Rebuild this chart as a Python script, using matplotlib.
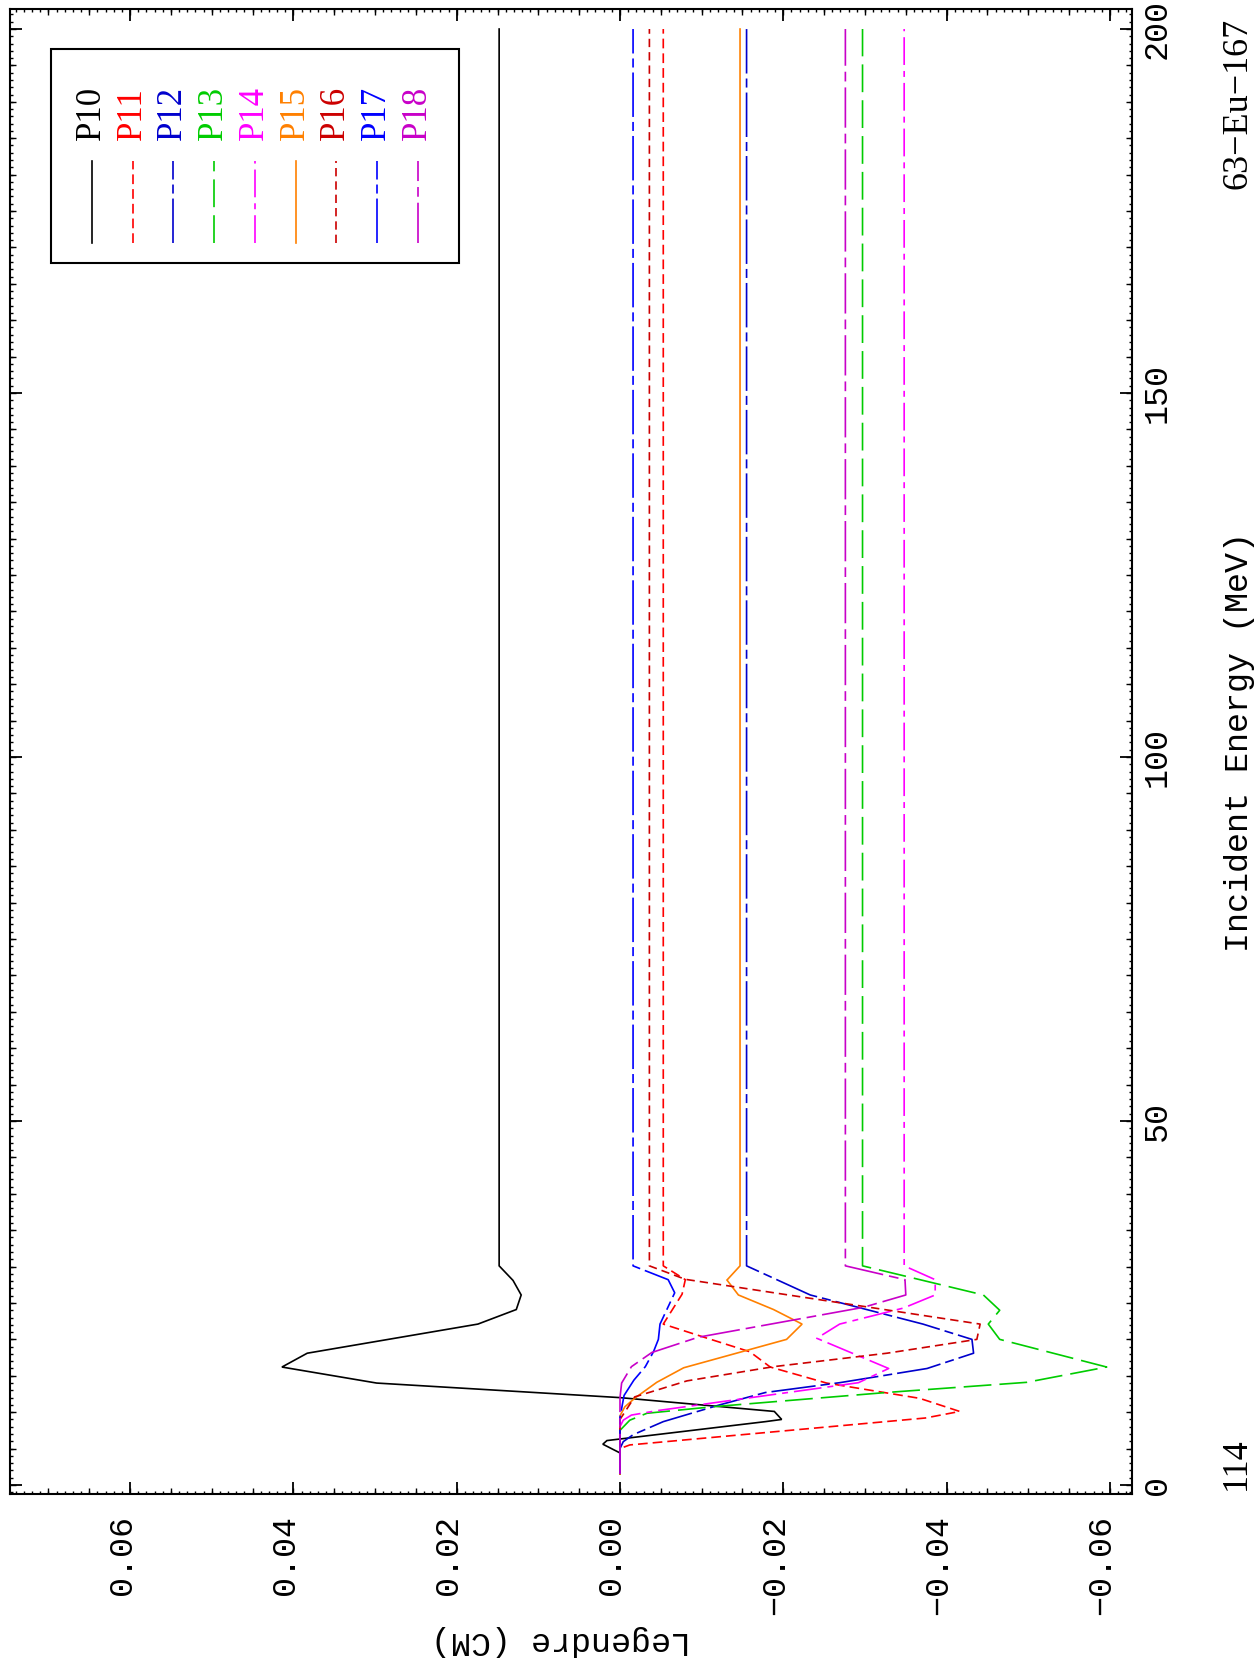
import matplotlib
matplotlib.use('Agg')
import numpy as np
import matplotlib.pyplot as plt
import matplotlib.transforms as mtransforms
from matplotlib.lines import Line2D
from matplotlib.patches import Rectangle
from matplotlib.ticker import MultipleLocator

plt.rcParams['lines.scale_dashes'] = False

W, H = 1256, 1669

# Legendre coefficients (CM) against incident energy (MeV)
e_p10 = [1.5, 4.4, 5.6, 6.1, 8.7, 9.0, 10.1, 12.0, 14.0, 16.2, 18.1, 22.1, 24.1, 26.1, 28.1, 30.1, 200.0]
p10 = [0.0, 0.0, 0.0021, 0.0016, -0.0178, -0.0198, -0.0189, 0.0, 0.0298, 0.0414, 0.0383, 0.0174, 0.0127, 0.0121, 0.0131, 0.0148, 0.0148]

e_p11 = [1.5, 5.0, 5.5, 9.2, 10.1, 11.9, 14.0, 16.2, 18.3, 20.4, 22.1, 26.2, 28.2, 30.1, 200.0]
p11 = [0.0, 0.0, -0.0012, -0.0374, -0.0416, -0.0367, -0.0253, -0.0184, -0.0159, -0.0100, -0.0053, -0.0076, -0.0080, -0.0053, -0.0053]

e_p12 = [1.5, 5.0, 5.95, 6.9, 8.7, 11.0, 12.7, 14.05, 16.0, 18.1, 20.0, 22.1, 26.1, 30.1, 200.0]
p12 = [0.0, 0.0, -0.0004, -0.0016, -0.0053, -0.0122, -0.0178, -0.0269, -0.0376, -0.0433, -0.0431, -0.0371, -0.0233, -0.0155, -0.0155]

e_p13 = [1.5, 7.5, 8.9, 9.85, 10.75, 12.7, 14.1, 16.2, 20.0, 22.1, 24.0, 26.1, 30.1, 200.0]
p13 = [0.0, 0.0, -0.0012, -0.0033, -0.0114, -0.0326, -0.0498, -0.0596, -0.0465, -0.0451, -0.0465, -0.0445, -0.0297, -0.0297]

e_p14 = [1.5, 8.0, 8.9, 9.6, 10.2, 14.05, 16.0, 20.15, 22.1, 24.3, 26.1, 28.2, 30.1, 200.0]
p14 = [0.0, 0.0, -0.0004, -0.0014, -0.0045, -0.0292, -0.0329, -0.0241, -0.0269, -0.0347, -0.0386, -0.0386, -0.0348, -0.0348]

e_p15 = [1.5, 9.5, 10.75, 12.0, 14.1, 16.1, 20.0, 22.1, 24.1, 26.1, 28.15, 30.1, 200.0]
p15 = [0.0, 0.0, -0.0006, -0.0019, -0.0045, -0.0078, -0.0204, -0.0223, -0.0188, -0.0145, -0.0131, -0.0147, -0.0147]

e_p16 = [1.5, 9.0, 12.1, 14.3, 16.25, 18.1, 20.0, 22.1, 28.25, 30.1, 200.0]
p16 = [0.0, 0.0, -0.0018, -0.0082, -0.0188, -0.0327, -0.0437, -0.0441, -0.0080, -0.0036, -0.0036]

e_p17 = [1.5, 9.3, 12.3, 14.4, 16.25, 18.3, 20.0, 22.1, 26.4, 28.2, 30.1, 200.0]
p17 = [0.0, 0.0, -0.0005, -0.0017, -0.0031, -0.0041, -0.0047, -0.0049, -0.0067, -0.0059, -0.0016, -0.0016]

e_p18 = [1.5, 12.0, 14.0, 16.25, 18.2, 20.3, 24.4, 26.1, 28.2, 30.1, 200.0]
p18 = [0.0, 0.0, -0.0002, -0.0014, -0.0039, -0.0096, -0.0298, -0.0350, -0.0349, -0.0276, -0.0276]

names = ['P10', 'P11', 'P12', 'P13', 'P14', 'P15', 'P16', 'P17', 'P18']
energies = [e_p10, e_p11, e_p12, e_p13, e_p14, e_p15, e_p16, e_p17, e_p18]
values = [p10, p11, p12, p13, p14, p15, p16, p17, p18]
colors = ['black', '#ff0000', '#0000cd', '#00cc00', '#ff00ff', '#ff8000', '#cc0000', '#0000ff', '#c800c8']
dashes = [None, (7, 3.6), (32, 3.6, 6.5, 3.6), (20, 5.8), (20, 4.3, 4.3, 4.3),
          None, (6, 3.6), (32, 3.6, 6.5, 3.6), (29, 4.3, 7, 4.3)]

x_ticks = [0.06, 0.04, 0.02, 0.0, -0.02, -0.04, -0.06]
x_ticklabels = ['0.06', '0.04', '0.02', '0.00', '\u22120.02', '\u22120.04', '\u22120.06']
y_ticks = [0, 50, 100, 150, 200]
y_ticklabels = ['0', '50', '100', '150', '200']

mono = 'Liberation Mono'
serif = 'Liberation Serif'


def fx(px):
    return px / W


def fy(py):
    return 1 - py / H


fig = plt.figure(figsize=(W / 100, H / 100), dpi=100)
rect = [fx(10), fy(1494), (1132 - 10) / W, (1494 - 9) / H]
ax = fig.add_axes(rect)

for e, v, c, d in zip(energies, values, colors, dashes):
    if d is None:
        ax.plot(v, e, color=c, lw=1.2, solid_joinstyle='miter')
    else:
        ax.plot(v, e, color=c, lw=1.2, dashes=d)

xlim = (0.0747, -0.0627)
ylim = (-1.24, 202.75)
ax.set_xlim(*xlim)
ax.set_ylim(*ylim)
for s in ax.spines.values():
    s.set_linewidth(1.5)

ax.set_xticks(x_ticks)
ax.set_xticklabels(x_ticklabels, rotation=90, fontfamily=mono, fontsize=24)
ax.set_yticks(y_ticks)
ax.set_yticklabels(y_ticklabels, rotation=90, fontfamily=mono, fontsize=24, va='center')
ax.xaxis.set_minor_locator(MultipleLocator(0.001))
ax.yaxis.set_minor_locator(MultipleLocator(1))
ax.tick_params(which='both', direction='in', top=True, bottom=True, left=True, right=True,
               labelleft=False, labelright=True)
ax.tick_params(which='major', length=8.5, width=1.3)
ax.tick_params(which='minor', length=2.4, width=1.0)
ax.tick_params(axis='x', which='major', pad=15)
ax.tick_params(axis='y', which='major', pad=7)

off = mtransforms.ScaledTranslation(-8 / 100, 0, fig.dpi_scale_trans)
for t in ax.get_xticklabels():
    t.set_transform(t.get_transform() + off)

# medium ticks (every 0.005 and every 5 MeV)
axm = fig.add_axes(rect, frameon=False)
axm.set_xlim(*xlim)
axm.set_ylim(*ylim)
axm.xaxis.set_major_locator(MultipleLocator(0.005))
axm.yaxis.set_major_locator(MultipleLocator(5))
axm.tick_params(direction='in', length=4.2, width=1.0, top=True, bottom=True, left=True, right=True,
                labelbottom=False, labelleft=False)
axm.patch.set_visible(False)

# axis titles and notes
fig.text(fx(561), fy(1632), 'Legendre (CM)', rotation=180, rotation_mode='anchor',
         ha='center', va='baseline', fontfamily=mono, fontsize=24)
fig.text(fx(1248), fy(742), 'Incident Energy (MeV)', rotation=90, rotation_mode='anchor',
         ha='center', va='baseline', fontfamily=mono, fontsize=24)
fig.text(fx(1247), fy(103), '63\u2212Eu\u2212167', rotation=90, rotation_mode='anchor',
         ha='center', va='baseline', fontfamily=serif, fontsize=26)
fig.text(fx(1245), fy(1490), '114', rotation=90, rotation_mode='anchor',
         ha='left', va='baseline', fontfamily=serif, fontsize=26)

# legend, drawn rotated like the rest of the page
fig.add_artist(Rectangle((fx(50.7), fy(263.3)), (459.3 - 50.7) / W, (263.3 - 49.3) / H,
                         transform=fig.transFigure, fill=False, lw=1.5, ec='black'))
step = 40.7
for i, (n, c, d) in enumerate(zip(names, colors, dashes)):
    xl = 92 + i * step
    kw = dict(color=c, lw=1.2, transform=fig.transFigure)
    if d is not None:
        kw['dashes'] = d
    fig.add_artist(Line2D([fx(xl), fx(xl)], [fy(243), fy(161)], **kw))
    fig.text(fx(100 + i * step), fy(140), n, rotation=90, rotation_mode='anchor',
             ha='left', va='baseline', fontfamily=serif, fontsize=25, color=c)

fig.savefig('out.png', dpi=100)
